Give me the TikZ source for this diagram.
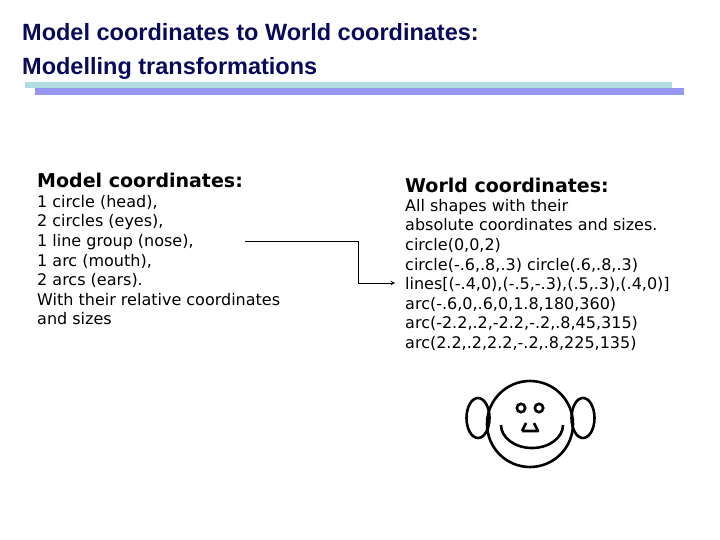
\documentclass[tikz,border=0pt]{standalone}
\usepackage{fontspec}
\setmainfont{DejaVu Sans}
\newfontfamily\titlefont{Liberation Sans}
\begin{document}
\begin{tikzpicture}[x=1pt,y=-1pt,
  body/.style={anchor=north west,inner sep=0pt,align=left,font=\fontsize{16}{19.6}\selectfont},
  head/.style={anchor=base west,inner sep=0pt,font=\fontsize{19}{22}\selectfont\bfseries},
  ttl/.style={anchor=base west,inner sep=0pt,text=navy,font=\titlefont\fontsize{23.5}{34}\selectfont\bfseries,align=left},
  stroke/.style={line width=2.6pt}]
\definecolor{navy}{RGB}{10,10,90}
\useasboundingbox (0,0) rectangle (720,540);
\node[ttl] (t) at (22,41) {Model coordinates to World coordinates:};
\node[ttl] (t2) at (22,75) {Modelling transformations};
\fill[fill={rgb,255:red,176;green,220;blue,226}] (25,82) rectangle (672,88);
\fill[fill={rgb,255:red,150;green,150;blue,238}] (35,88) rectangle (684,95);
\node[head] (mh) at (37,188) {Model coordinates:};
\node[head] (wh) at (405,193) {World coordinates:};
\node[body] (ml) at (37,195) {1 circle (head),\\2 circles (eyes),\\1 line group (nose),\\1 arc (mouth),\\2 arcs (ears).\\With their relative coordinates\\and sizes};
\node[body] (wl) at (405,199) {All shapes with their\\absolute coordinates and sizes.\\circle(0,0,2)\\circle(-.6,.8,.3) circle(.6,.8,.3)\\lines[(-.4,0),(-.5,-.3),(.5,.3),(.4,0)]\\arc(-.6,0,.6,0,1.8,180,360)\\arc(-2.2,.2,-2.2,-.2,.8,45,315)\\arc(2.2,.2,2.2,-.2,.8,225,135)};
\coordinate (a0) at (245,241);
\coordinate (a1) at (358,241);
\coordinate (a2) at (358,283);
\coordinate (a3) at (395,283);
\draw[line width=1pt,-stealth] (a0) -- (a1) -- (a2) -- (a3);
% face
\draw[stroke] (530,424) circle (43);
\draw[stroke] (478,418) ellipse (11.5 and 20);
\draw[stroke] (583,418) ellipse (11.5 and 20);
\draw[stroke] (521,408) circle (4.2);
\draw[stroke] (539,408) circle (4.2);
\draw[stroke,line join=round] (522,431) -- (526,423) (534,423) -- (538,431) -- (522,431);
\draw[stroke] (501,425) arc[start angle=180,end angle=360,x radius=31,y radius=-23];
\end{tikzpicture}
\end{document}
